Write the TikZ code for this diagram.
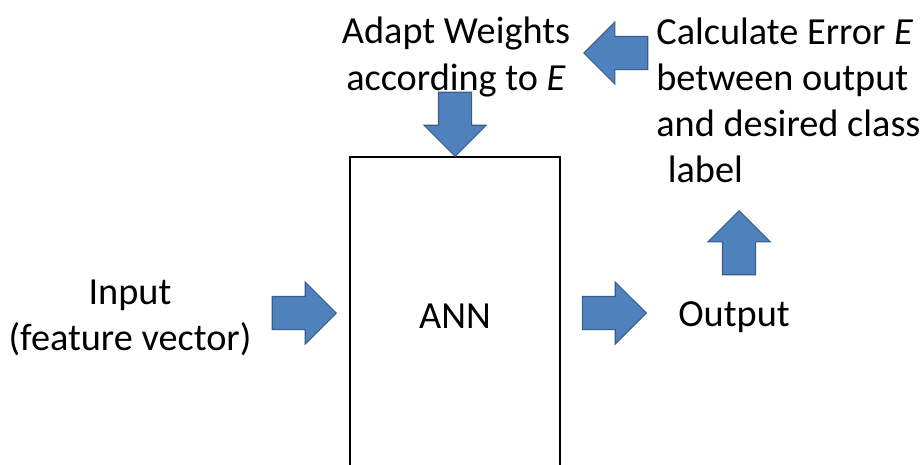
\documentclass[tikz,border=0pt]{standalone}
\usepackage{fontspec}
\setmainfont{Carlito}
\usetikzlibrary{shapes.arrows}
\definecolor{arrfill}{HTML}{4F81BD}
\definecolor{arrline}{HTML}{385D8A}
\begin{document}
\begin{tikzpicture}[
  x=0.02cm, y=-0.02cm,
  every node/.style={font=\fontsize{21.8}{26.2}\selectfont, inner sep=0pt},
  blockarrow/.style={single arrow, fill=arrfill, draw=arrline, line width=0.6pt,
    inner xsep=0pt, inner ysep=0.32cm, anchor=tip,
    minimum height=1.28cm, minimum width=1.22cm, single arrow head extend=0.29cm},
  label/.style={align=center},
]

% Canvas
\useasboundingbox (0,0) rectangle (922,464);
\clip (0,0) rectangle (922,464);
\fill[white] (0,0) rectangle (922,464);

% Network box, open at the bottom
\node[draw=black, line width=1.2pt, minimum width=4.2cm, minimum height=6.36cm] (ann) at (455,316) {ANN};

% Texts
\node[label] (inp) at (130,318) {Input\\(feature vector)};
\node[anchor=west] (out) at (678,317) {Output};
\node[label] (adapt) at (456,57) {Adapt Weights\\according to \textit{E}};
\node[align=left, anchor=west] (err) at (656,100) {Calculate Error \textit{E}\\between output\\and desired class\\\hspace*{0.3em}label};

% Block arrows (placed by their tips)
\node[blockarrow] (a1) at (337,313) {};
\node[blockarrow] (a2) at (647,313) {};
\node[blockarrow, rotate=90] (a3) at (739,210) {};
\node[blockarrow, rotate=180] (a4) at (583,53) {};
\node[blockarrow, rotate=270] (a5) at (455,157) {};

\end{tikzpicture}
\end{document}
